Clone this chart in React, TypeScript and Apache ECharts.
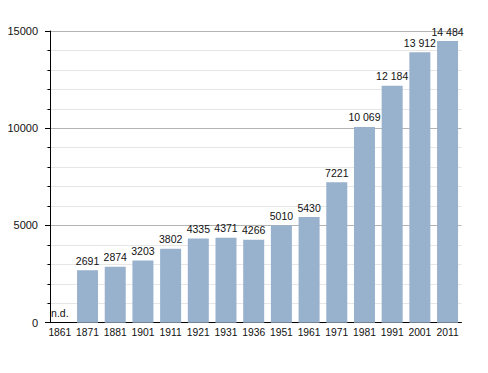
import React, { useEffect, useRef } from "react";
import * as echarts from "echarts";

const years = ["1861", "1871", "1881", "1901", "1911", "1921", "1931", "1936", "1951", "1961", "1971", "1981", "1991", "2001", "2011"];
const population = [0, 2691, 2874, 3203, 3802, 4335, 4371, 4266, 5010, 5430, 7221, 10069, 12184, 13912, 14484];
const yTicks = [0, 5000, 10000, 15000];

const fmt = (v: number) => {
  if (v === 0) return "n.d.";
  const s = String(v);
  return v >= 10000 ? s.slice(0, s.length - 3) + " " + s.slice(s.length - 3) : s;
};

export default function App() {
  const ref = useRef<HTMLDivElement>(null);
  useEffect(() => {
    const chart = echarts.init(ref.current!, null, { renderer: "svg" });
    const font = "'Liberation Sans', Arial, sans-serif";
    chart.setOption({
      animation: false,
      backgroundColor: "#ffffff",
      grid: { left: 46, right: 26.6, top: 31, bottom: 50.3, containLabel: false },
      xAxis: {
        type: "category",
        data: years,
        axisLine: { show: true, lineStyle: { color: "#000", width: 1 } },
        axisTick: { show: false },
        axisLabel: { color: "#111", fontSize: 10.3, fontFamily: font, margin: 5, interval: 0 },
        splitLine: { show: false },
      },
      yAxis: {
        type: "value",
        min: yTicks[0],
        max: yTicks[yTicks.length - 1],
        interval: 5000,
        offset: -4,
        axisLine: { show: true, lineStyle: { color: "#000", width: 1 } },
        axisTick: { show: true, inside: false, length: 5, lineStyle: { color: "#000" } },
        minorTick: { show: true, splitNumber: 5, length: 2.5, lineStyle: { color: "#000" } },
        axisLabel: { color: "#111", fontSize: 11, fontFamily: font, margin: 12, formatter: (v: number) => String(v) },
        splitLine: { show: true, lineStyle: { color: "#b3b3b3", width: 1 } },
        minorSplitLine: { show: true, lineStyle: { color: "#e6e6e6", width: 1 } },
      },
      series: [
        {
          type: "bar",
          data: population,
          barWidth: 21,
          itemStyle: { color: "#98b1cd" },
          label: {
            show: true,
            position: "top",
            distance: 4,
            color: "#111",
            fontSize: 10.5,
            fontFamily: font,
            formatter: (p: any) => fmt(p.value),
          },
        },
      ],
    });
    return () => chart.dispose();
  }, []);
  return <div ref={ref} style={{ position: "absolute", left: 0, top: 0, width: 488, height: 373 }} />;
}
